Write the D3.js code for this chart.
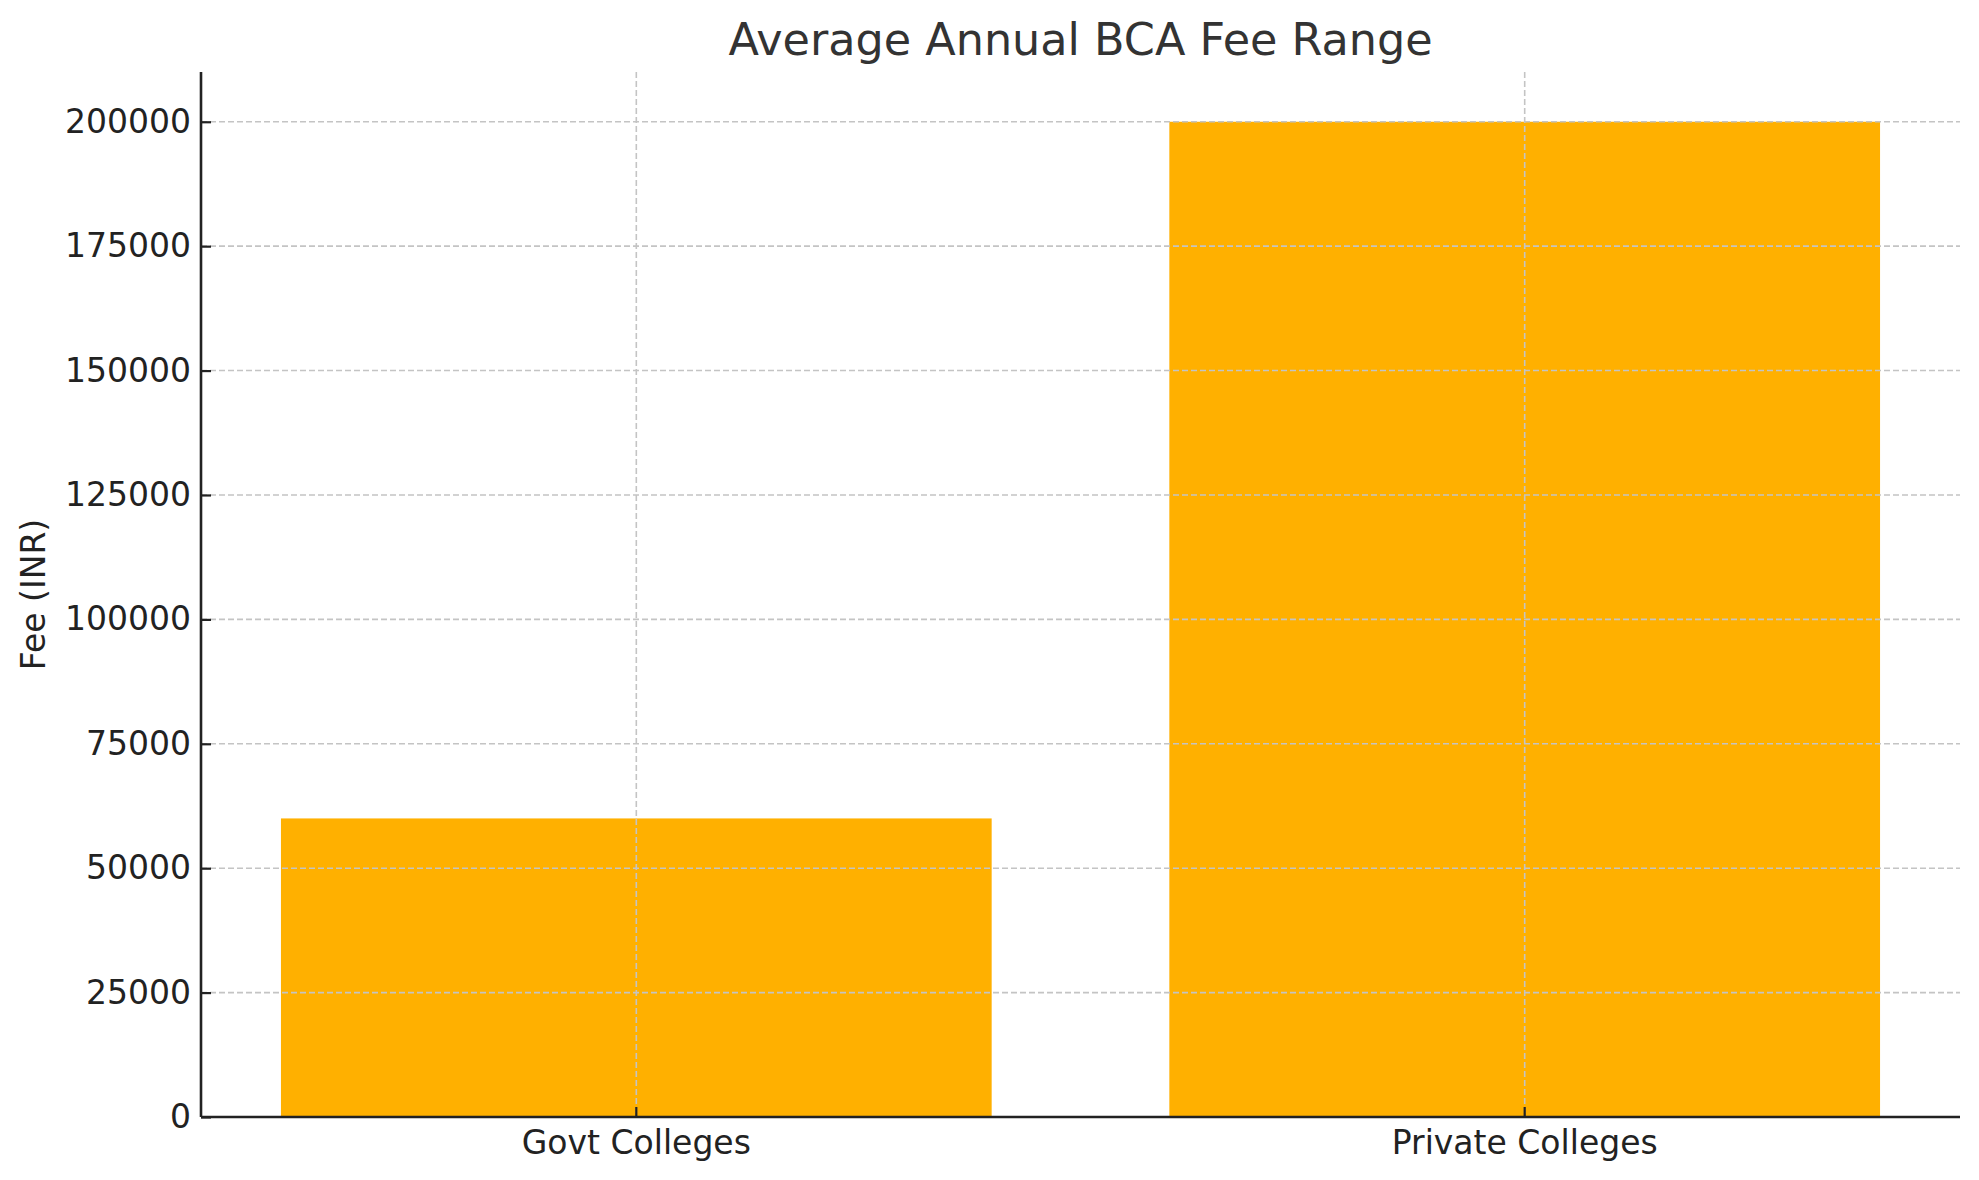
<!DOCTYPE html>
<html>
<head>
<meta charset="utf-8">
<script src="https://cdn.jsdelivr.net/npm/d3@7"></script>
<style>
  body { margin: 0; background: #fff; }
  text { font-family: "DejaVu Sans", sans-serif; }
</style>
</head>
<body>
<div id="chart"></div>
<script>
// data
var categories = ['Govt Colleges', 'Private Colleges'];
var fees = [60000, 200000];
var yTicks = [0, 25000, 50000, 75000, 100000, 125000, 150000, 175000, 200000];

var width = 1979, height = 1180;
var margin = {top: 72, right: 19, bottom: 63, left: 201};
var barColor = '#ffb000';
var textColor = '#222';

var svg = d3.select('#chart').append('svg')
  .attr('width', width)
  .attr('height', height);

var data = categories.map(function(c, i){ return {label: c, fee: fees[i]} });

var x = d3.scaleBand()
  .domain(categories)
  .range([margin.left, width - margin.right])
  .paddingInner(0.2)
  .paddingOuter(0.09);

var y = d3.scaleLinear()
  .domain([0, 210000])
  .range([height - margin.bottom, margin.top]);

// bars
svg.append('g').selectAll('rect')
  .data(data)
  .enter().append('rect')
    .attr('x', function(d){ return x(d.label) })
    .attr('y', function(d){ return y(d.fee) })
    .attr('width', x.bandwidth())
    .attr('height', function(d){ return y(0) - y(d.fee) })
    .attr('fill', barColor);

// grid (drawn over the bars, like the original)
var grid = svg.append('g')
  .attr('stroke', '#c4c4c4')
  .attr('stroke-width', 1.6)
  .attr('stroke-dasharray', '6,3');

grid.selectAll('line.h')
  .data(yTicks)
  .enter().append('line')
    .attr('class', 'h')
    .attr('x1', margin.left)
    .attr('x2', width - margin.right)
    .attr('y1', function(d){ return y(d) })
    .attr('y2', function(d){ return y(d) });

grid.selectAll('line.v')
  .data(categories)
  .enter().append('line')
    .attr('class', 'v')
    .attr('x1', function(d){ return x(d) + x.bandwidth()/2 })
    .attr('x2', function(d){ return x(d) + x.bandwidth()/2 })
    .attr('y1', margin.top)
    .attr('y2', height - margin.bottom);

// axes, ticks point inward
var yAxis = d3.axisLeft(y)
  .tickValues(yTicks)
  .tickFormat(d3.format('d'))
  .tickSizeInner(-10)
  .tickSizeOuter(0)
  .tickPadding(10);

var xAxis = d3.axisBottom(x)
  .tickSizeInner(-10)
  .tickSizeOuter(0)
  .tickPadding(14);

var gy = svg.append('g')
  .attr('transform', 'translate(' + margin.left + ',0)')
  .call(yAxis);

var gx = svg.append('g')
  .attr('transform', 'translate(0,' + (height - margin.bottom) + ')')
  .call(xAxis);

[gy, gx].forEach(function(g){
  g.select('.domain').attr('stroke', textColor).attr('stroke-width', 2.6);
  g.selectAll('.tick line').attr('stroke', textColor).attr('stroke-width', 2.2);
  g.selectAll('.tick text')
    .attr('fill', textColor)
    .style('font-family', '"DejaVu Sans", sans-serif')
    .style('font-size', '33px');
});

// x axis ends at the plot edge, line covers the full width
gx.select('.domain').attr('d', 'M' + margin.left + ',0H' + (width - margin.right));
gy.select('.domain').attr('d', 'M0,' + (height - margin.bottom) + 'V' + margin.top);

// title
svg.append('text')
  .attr('x', (margin.left + width - margin.right)/2)
  .attr('y', 55)
  .attr('text-anchor', 'middle')
  .attr('fill', '#333')
  .style('font-size', '44.5px')
  .text('Average Annual BCA Fee Range');

// y label
svg.append('text')
  .attr('transform', 'translate(45,' + (margin.top + (height - margin.bottom))/2 + ') rotate(-90)')
  .attr('text-anchor', 'middle')
  .attr('fill', textColor)
  .style('font-size', '33px')
  .text('Fee (INR)');
</script>
</body>
</html>
